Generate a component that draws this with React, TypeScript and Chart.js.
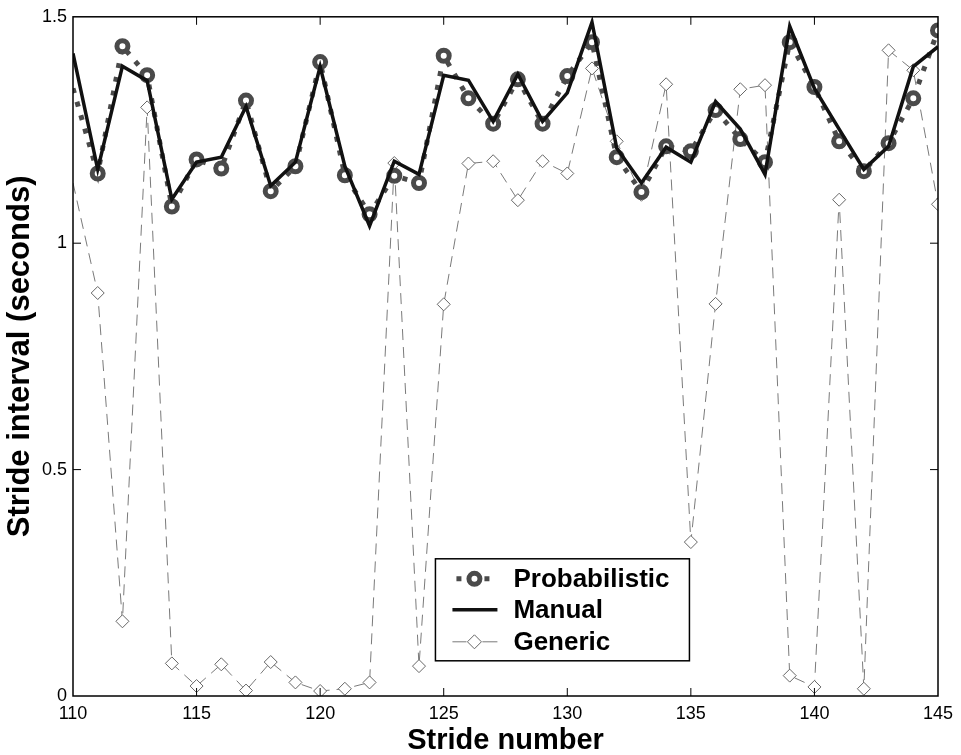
import React, { useEffect, useRef } from 'react';
import { Chart, registerables } from 'chart.js';

Chart.register(...registerables);

const strides = [110, 111, 112, 113, 114, 115, 116, 117, 118, 119, 120, 121, 122, 123, 124, 125, 126, 127,
  128, 129, 130, 131, 132, 133, 134, 135, 136, 137, 138, 139, 140, 141, 142, 143, 144, 145];

const probabilistic = [1.342, 1.154, 1.435, 1.371, 1.081, 1.185, 1.165, 1.315, 1.115, 1.170, 1.400, 1.150,
  1.064, 1.149, 1.133, 1.414, 1.320, 1.264, 1.362, 1.264, 1.369, 1.444, 1.190, 1.113,
  1.214, 1.203, 1.294, 1.230, 1.179, 1.444, 1.345, 1.225, 1.159, 1.221, 1.320, 1.470];

const manual = [1.419, 1.163, 1.391, 1.359, 1.097, 1.179, 1.190, 1.302, 1.127, 1.179, 1.390, 1.170,
  1.038, 1.181, 1.152, 1.371, 1.360, 1.269, 1.373, 1.269, 1.332, 1.488, 1.210, 1.133,
  1.212, 1.179, 1.313, 1.252, 1.152, 1.479, 1.342, 1.252, 1.163, 1.214, 1.390, 1.434];

const generic = [1.133, 0.890, 0.165, 1.300, 0.072, 0.022, 0.070, 0.012, 0.075, 0.030, 0.011, 0.016,
  0.030, 1.177, 0.066, 0.865, 1.176, 1.181, 1.095, 1.181, 1.154, 1.386, 1.225, 1.107,
  1.351, 0.340, 0.866, 1.340, 1.349, 0.045, 0.020, 1.096, 0.016, 1.426, 1.382, 1.086];

const seriesNames = ['Probabilistic', 'Manual', 'Generic'];
const xTickValues = [110, 115, 120, 125, 130, 135, 140, 145];
const yTickValues = [0, 0.5, 1, 1.5];
const yTickLabels = ['0', '0.5', '1', '1.5'];
const xTitle = 'Stride number';
const yTitle = 'Stride interval (seconds)';

const FONT = '"Liberation Sans", Arial, Helvetica, sans-serif';

const PROB_COLOR = '#4a4a4a';
const MANUAL_COLOR = '#111111';
const GENERIC_COLOR = '#7a7a7a';

const framePlugin = {
  id: 'frame',
  afterDatasetsDraw(chart: any) {
    const { ctx, chartArea: a, scales } = chart;
    ctx.save();
    ctx.setLineDash([]);
    ctx.strokeStyle = '#000';
    ctx.lineWidth = 1.5;
    ctx.strokeRect(a.left, a.top, a.right - a.left, a.bottom - a.top);
    const L = 8;
    ctx.lineWidth = 1;
    const seg = (x1: number, y1: number, x2: number, y2: number) => {
      ctx.beginPath();
      ctx.moveTo(x1, y1);
      ctx.lineTo(x2, y2);
      ctx.stroke();
    };
    scales.x.ticks.forEach((t: any) => {
      const px = scales.x.getPixelForValue(t.value);
      if (px <= a.left + 1 || px >= a.right - 1) return;
      seg(px, a.bottom, px, a.bottom - L);
      seg(px, a.top, px, a.top + L);
    });
    scales.y.ticks.forEach((t: any) => {
      const py = scales.y.getPixelForValue(t.value);
      if (py <= a.top + 1 || py >= a.bottom - 1) return;
      seg(a.left, py, a.left + L, py);
      seg(a.right, py, a.right - L, py);
    });
    ctx.restore();
  },
};

const legendPlugin = {
  id: 'insideLegend',
  afterDraw(chart: any) {
    const { ctx, chartArea: a } = chart;
    const w = a.right - a.left;
    const h = a.bottom - a.top;
    const left = a.left + w * 0.419;
    const top = a.top + h * 0.798;
    const bw = 254;
    const bh = 102;
    ctx.save();
    ctx.setLineDash([]);
    ctx.fillStyle = '#fff';
    ctx.fillRect(left, top, bw, bh);
    ctx.strokeStyle = '#000';
    ctx.lineWidth = 1.5;
    ctx.strokeRect(left, top, bw, bh);

    const sx1 = left + 17;
    const sx2 = left + 62;
    const sc = left + 39;
    const tx = left + 78;
    const rows = [top + 20, top + 51, top + 83];

    // Probabilistic
    ctx.strokeStyle = PROB_COLOR;
    ctx.lineWidth = 5;
    ctx.setLineDash([5, 9]);
    ctx.lineCap = 'butt';
    ctx.beginPath();
    ctx.moveTo(sx1 + 4, rows[0]);
    ctx.lineTo(sx2, rows[0]);
    ctx.stroke();
    ctx.setLineDash([]);
    ctx.beginPath();
    ctx.arc(sc, rows[0], 5.5, 0, Math.PI * 2);
    ctx.fillStyle = '#fff';
    ctx.fill();
    ctx.stroke();

    // Manual
    ctx.strokeStyle = MANUAL_COLOR;
    ctx.lineWidth = 3.5;
    ctx.beginPath();
    ctx.moveTo(sx1, rows[1]);
    ctx.lineTo(sx2, rows[1]);
    ctx.stroke();

    // Generic
    ctx.strokeStyle = GENERIC_COLOR;
    ctx.lineWidth = 1;
    ctx.beginPath();
    ctx.moveTo(sx1, rows[2]);
    ctx.lineTo(sc - 8, rows[2]);
    ctx.moveTo(sc + 8, rows[2]);
    ctx.lineTo(sx2, rows[2]);
    ctx.stroke();
    ctx.beginPath();
    ctx.moveTo(sc, rows[2] - 7);
    ctx.lineTo(sc + 7, rows[2]);
    ctx.lineTo(sc, rows[2] + 7);
    ctx.lineTo(sc - 7, rows[2]);
    ctx.closePath();
    ctx.fillStyle = '#fff';
    ctx.fill();
    ctx.strokeStyle = '#666';
    ctx.stroke();

    ctx.fillStyle = '#000';
    ctx.font = `bold 26px ${FONT}`;
    ctx.textAlign = 'left';
    ctx.textBaseline = 'middle';
    seriesNames.forEach((n, i) => ctx.fillText(n, tx, rows[i] + 1));
    ctx.restore();
  },
};

export default function App() {
  const ref = useRef<HTMLCanvasElement | null>(null);

  useEffect(() => {
    if (!ref.current) return;
    const toXY = (arr: number[]) => strides.map((s, i) => ({ x: s, y: arr[i] }));
    const chart = new Chart(ref.current, {
      type: 'line',
      data: {
        datasets: [
          {
            label: seriesNames[0],
            data: toXY(probabilistic),
            borderColor: PROB_COLOR,
            borderWidth: 5,
            borderDash: [5, 9],
            borderCapStyle: 'butt',
            pointRadius: (c: any) => (c.dataIndex === 0 ? 0 : 5.5),
            pointBorderWidth: 5,
            pointBorderColor: PROB_COLOR,
            pointBackgroundColor: '#fff',
            pointStyle: 'circle',
            tension: 0,
            order: 2,
          },
          {
            label: seriesNames[1],
            data: toXY(manual),
            borderColor: MANUAL_COLOR,
            borderWidth: 3.5,
            pointRadius: 0,
            tension: 0,
            order: 1,
          },
          {
            label: seriesNames[2],
            data: toXY(generic),
            borderColor: GENERIC_COLOR,
            borderWidth: 1,
            borderDash: [11, 7],
            pointRadius: (c: any) => (c.dataIndex === 0 ? 0 : 6.5),
            pointStyle: 'rectRot',
            pointBorderWidth: 1,
            pointBorderColor: '#666',
            pointBackgroundColor: '#fff',
            tension: 0,
            order: 3,
          },
        ] as any,
      },
      options: {
        animation: false,
        responsive: false,
        devicePixelRatio: 1,
        layout: { padding: { top: 13, right: 23, left: 0, bottom: 0 } },
        plugins: { legend: { display: false }, tooltip: { enabled: false } },
        scales: {
          x: {
            type: 'linear',
            min: 110,
            max: 145,
            afterBuildTicks: (s: any) => { s.ticks = xTickValues.map((v) => ({ value: v })); },
            afterFit: (s: any) => { s.height = 59; },
            grid: { display: false, drawTicks: false },
            border: { display: false },
            ticks: {
              padding: 7,
              color: '#000',
              font: { family: FONT, size: 18 },
              maxRotation: 0,
              callback: (v: any) => String(v),
            },
            title: {
              display: true,
              text: xTitle,
              color: '#000',
              font: { family: FONT, size: 29, weight: 'bold' },
              padding: { top: 0, bottom: -3 },
            },
          },
          y: {
            type: 'linear',
            min: 0,
            max: 1.5,
            afterBuildTicks: (s: any) => { s.ticks = yTickValues.map((v) => ({ value: v })); },
            afterFit: (s: any) => { s.width = 73; },
            grid: { display: false, drawTicks: false },
            border: { display: false },
            ticks: {
              padding: 6,
              color: '#000',
              font: { family: FONT, size: 18 },
              callback: (v: any) => {
                const i = yTickValues.indexOf(Number(v));
                return i >= 0 ? yTickLabels[i] : '';
              },
            },
            title: {
              display: true,
              text: yTitle,
              color: '#000',
              font: { family: FONT, size: 31, weight: 'bold' },
              padding: { top: 2, bottom: 0 },
            },
          },
        },
      } as any,
      plugins: [framePlugin, legendPlugin],
    });
    return () => chart.destroy();
  }, []);

  return (
    <div style={{ position: 'absolute', left: 0, top: 0, width: 961, height: 755, background: '#fff' }}>
      <canvas ref={ref} width={961} height={755} style={{ display: 'block' }} />
    </div>
  );
}
